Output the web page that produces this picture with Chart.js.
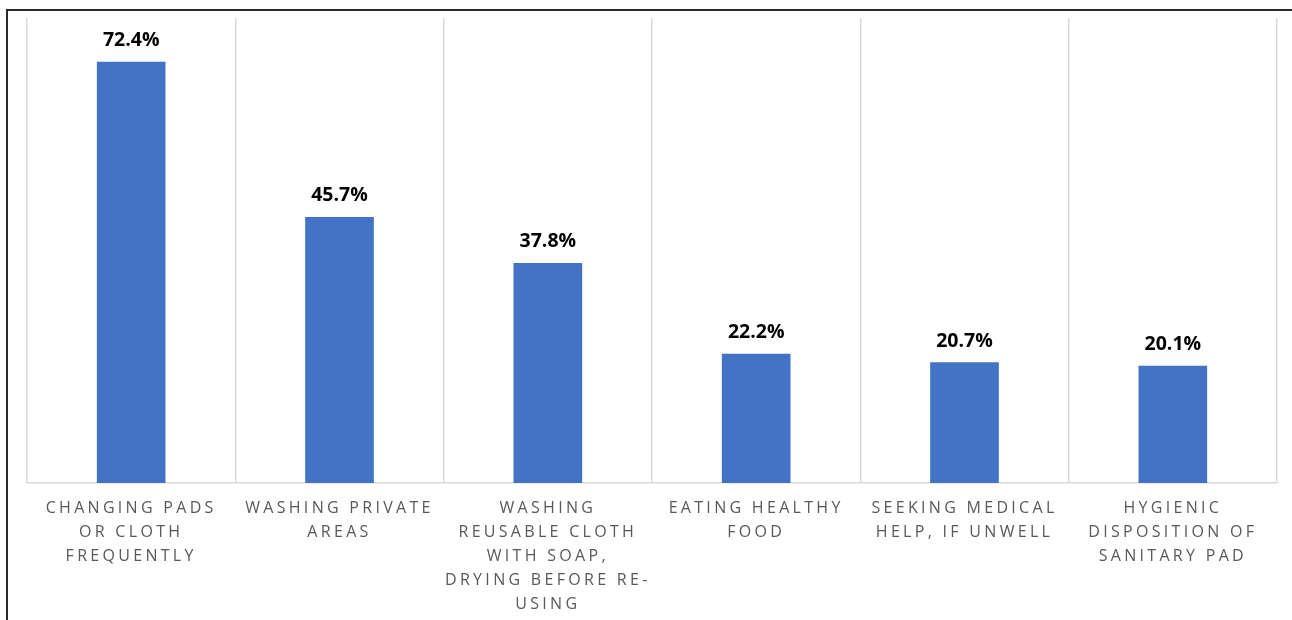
<!DOCTYPE html>
<html>
<head>
<meta charset="utf-8">
<script src="https://cdn.jsdelivr.net/npm/chart.js@4/dist/chart.umd.min.js"></script>
<style>
  html, body { margin: 0; padding: 0; background: #fff; }
  #wrap { position: relative; width: 1292px; height: 620px; overflow: hidden; }
  #frame { position: absolute; left: 6px; top: 9px; right: -10px; bottom: -10px;
           border-left: 2px solid #2a2a2a; border-top: 2px solid #2a2a2a; pointer-events: none; }
  canvas { position: absolute; left: 0; top: 0; }
</style>
</head>
<body>
<div id="wrap">
  <canvas id="chart" width="1292" height="620"></canvas>
  <div id="frame"></div>
</div>
<script>
// Hygiene practices reported (% of respondents)
const categories = [
  ["CHANGING PADS", "OR CLOTH", "FREQUENTLY"],
  ["WASHING PRIVATE", "AREAS"],
  ["WASHING", "REUSABLE CLOTH", "WITH SOAP,", "DRYING BEFORE RE-", "USING"],
  ["EATING HEALTHY", "FOOD"],
  ["SEEKING MEDICAL", "HELP, IF UNWELL"],
  ["HYGIENIC", "DISPOSITION OF", "SANITARY PAD"]
];
const percentages = [72.4, 45.7, 37.8, 22.2, 20.7, 20.1];

// Spaced-out capitals for the category axis, value labels above each bar
const spacingPlugin = {
  id: 'spacing',
  beforeDraw(chart) { chart.ctx.letterSpacing = '3.3px'; },
  afterDraw(chart) { chart.ctx.letterSpacing = '0px'; }
};

const valueLabels = {
  id: 'valueLabels',
  afterDatasetsDraw(chart) {
    const ctx = chart.ctx;
    const meta = chart.getDatasetMeta(0);
    ctx.save();
    ctx.letterSpacing = '0px';
    ctx.font = 'bold 19.5px "Open Sans"';
    ctx.fillStyle = '#000000';
    ctx.textAlign = 'center';
    ctx.textBaseline = 'alphabetic';
    meta.data.forEach((bar, i) => {
      ctx.fillText(percentages[i].toFixed(1) + '%', bar.x, bar.y - 16);
    });
    ctx.restore();
  }
};

new Chart(document.getElementById('chart'), {
  type: 'bar',
  data: {
    labels: categories,
    datasets: [{
      data: percentages,
      backgroundColor: '#4472C4',
      borderWidth: 0,
      barThickness: 68
    }]
  },
  options: {
    responsive: false,
    animation: false,
    devicePixelRatio: 1,
    layout: { padding: { left: 27, right: 15, top: 18, bottom: 0 } },
    plugins: { legend: { display: false }, tooltip: { enabled: false } },
    scales: {
      x: {
        offset: true,
        grid: { display: true, offset: true, drawTicks: false, color: '#d9d9d9', lineWidth: 1.5 },
        border: { display: true, color: '#d9d9d9', width: 1.5 },
        ticks: {
          color: '#595959',
          padding: 14,
          maxRotation: 0,
          autoSkip: false,
          font: { family: '"Open Sans"', size: 16, lineHeight: 1.49 }
        },
        afterFit(scale) { scale.height = 137; }
      },
      y: {
        display: false,
        min: 0,
        max: 80
      }
    }
  },
  plugins: [spacingPlugin, valueLabels]
});
</script>
</body>
</html>
